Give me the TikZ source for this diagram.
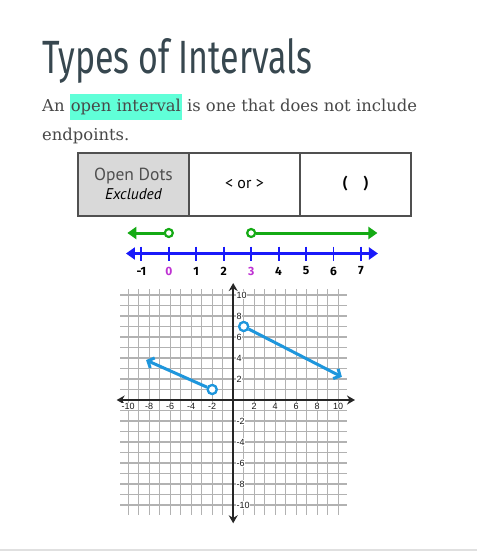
\documentclass[tikz,border=0pt]{standalone}
\usepackage{fontspec}
\usepackage{graphicx}
\usetikzlibrary{positioning,arrows.meta}
\setmainfont{DejaVu Serif}
\newfontfamily\titlefont{Fira Sans}
\newfontfamily\cellfont{PT Sans}
\newfontfamily\axisfont{Liberation Sans}
\newfontfamily\handfont{Fira Sans}
\definecolor{mytitle}{RGB}{55,71,79}
\definecolor{mytext}{RGB}{72,72,72}
\definecolor{myhighlight}{RGB}{96,255,216}
\definecolor{mygreen}{RGB}{20,170,20}
\definecolor{myblue}{RGB}{25,25,250}
\definecolor{mypurple}{RGB}{190,50,210}
\definecolor{mygraph}{RGB}{30,150,220}
\definecolor{mygrid}{RGB}{178,178,178}
\definecolor{myborder}{RGB}{80,80,80}
\definecolor{mycell}{RGB}{217,217,217}
\definecolor{mysep}{RGB}{224,224,224}

\begin{document}
\begin{tikzpicture}[x=1pt,y=-1pt,
    cell/.style={draw=myborder,line width=2pt,minimum width=111pt,minimum height=63pt,
      outer sep=0pt,inner sep=0pt,align=center},
    hole/.style={circle,draw,fill=white,line width=2.2pt,minimum size=8pt,inner sep=0pt},
    numlabel/.style={font=\handfont\bfseries\fontsize{12}{12}\selectfont,inner sep=0pt},
    ticklabel/.style={font=\axisfont\fontsize{9}{9}\selectfont,fill=white,inner sep=0.5pt,text=black!90}]
    \useasboundingbox (0,0) rectangle (477,551);

    % Heading and text
    \node[anchor=base west,inner sep=0pt,text=mytitle] (title) at (42,73.3)
        {\resizebox{270pt}{35pt}{\titlefont\fontsize{48}{48}\selectfont Types of Intervals}};
    \setlength{\fboxsep}{1pt}
    \node[anchor=base west,inner sep=0pt,text=mytext,font=\fontsize{16.4}{18}\selectfont] (intro) at (42,111.7)
        {An \colorbox{myhighlight}{\rule[-7.3pt]{0pt}{24pt}open interval} is one that does not include};
    \node[anchor=base west,inner sep=0pt,text=mytext,font=\fontsize{16.4}{18}\selectfont] (intro2) at (42,140)
        {endpoints.};

    % Table row
    \node[cell,fill=mycell,anchor=north west] (dots) at (78,152.5)
        {{\cellfont\fontsize{17.5}{17.5}\selectfont\color{myborder}Open Dots}\\[3pt]
         {\cellfont\itshape\fontsize{15.5}{15.5}\selectfont Excluded}};
    \node[cell,right=0pt of dots] (signs) {\cellfont\fontsize{16}{16}\selectfont < or >};
    \node[cell,right=0pt of signs] (parens) {\cellfont\bfseries\fontsize{16}{16}\selectfont (\quad)};

    % Number line
    \begin{scope}[shift={(168.8pt,-253.5pt)},x=27.45pt]
        \coordinate (bleft) at (-1.56,0);
        \coordinate (bright) at (7.62,0);
        \draw[myblue,line width=3pt,{Triangle[length=9pt,width=12pt]}-{Triangle[length=9pt,width=12pt]}]
            (bleft) -- (bright);
        \foreach \i in {-1,...,7}{
            \draw[myblue,line width=1.8pt] (\i,-7) -- (\i,7);% tick
        }
        \foreach \i/\c in {-1/black,0/mypurple,1/black,2/black,3/mypurple,4/black,5/black,6/black,7/black}{
            \node[numlabel,text=\c] (num\i) at (\i,17.5) {\i};
        }
        % Green rays with open dots
        \node[hole,draw=mygreen] (gzero) at (0,-20.5) {};
        \node[hole,draw=mygreen] (gthree) at (3,-20.5) {};
        \coordinate (gleft) at (-1.51,-20.5);
        \coordinate (gright) at (7.6,-20.5);
        \draw[mygreen,line width=3pt,{Triangle[length=9pt,width=12pt]}-] (gleft) -- (gzero);
        \draw[mygreen,line width=3pt,-{Triangle[length=9pt,width=12pt]}] (gthree) -- (gright);
    \end{scope}

    % Coordinate plane
    \begin{scope}[shift={(233.2pt,-400pt)},x=10.5pt,y=10.5pt]
        \foreach \i in {-10,...,10}{
            \draw[mygrid,line width=1.4pt] (\i,-10.95) -- (\i,10.55);
            \draw[mygrid,line width=1.4pt] (-10.75,\i) -- (10.8,\i);
        }
        \coordinate (xleft) at (-11.1,0);
        \coordinate (xright) at (11.6,0);
        \coordinate (ytop) at (0,11.14);
        \coordinate (ybottom) at (0,-11.74);
        \draw[black!85,line width=1.8pt,{Stealth[length=8pt,width=9pt]}-{Stealth[length=8pt,width=9pt]}]
            (xleft) -- (xright);
        \draw[black!85,line width=1.8pt,{Stealth[length=8pt,width=9pt]}-{Stealth[length=8pt,width=9pt]}]
            (ytop) -- (ybottom);
        \foreach \i in {-10,-8,-6,-4,-2,2,4,6,8,10}{
            \node[ticklabel] (xt\i) at (\i,-0.6) {\i};
            \node[ticklabel,anchor=west] (yt\i) at (0.27,\i) {\i};
        }
        % Graph of the two rays
        \node[hole,draw=mygraph,minimum size=9pt] (lopen) at (-2,1) {};
        \node[hole,draw=mygraph,minimum size=9pt] (ropen) at (1,7) {};
        \coordinate (lend) at (-8.3,3.8);
        \coordinate (rend) at (10.35,2.2);
        \draw[mygraph,line width=3pt,-{Straight Barb[length=5pt,width=11pt]}] (lopen) -- (lend);
        \draw[mygraph,line width=3pt,-{Straight Barb[length=5pt,width=11pt]}] (ropen) -- (rend);
        \node[hole,draw=mygraph,minimum size=9pt] at (lopen) {};
        \node[hole,draw=mygraph,minimum size=9pt] at (ropen) {};
    \end{scope}

    \draw[mysep,line width=1.5pt] (0,550) -- (477,550);
\end{tikzpicture}
\end{document}
